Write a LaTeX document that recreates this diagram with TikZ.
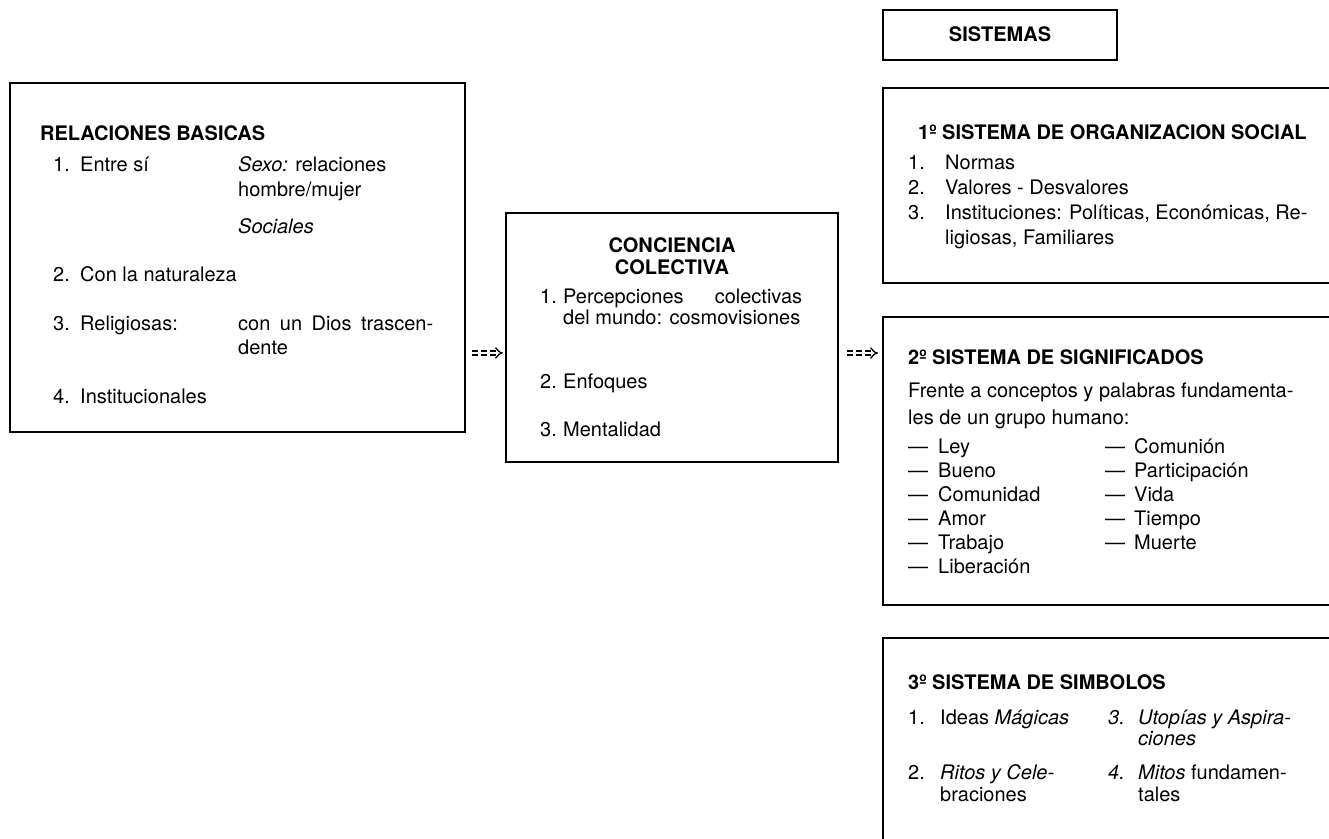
\documentclass[tikz,border=0pt]{standalone}
\usepackage{fontspec}
\setmainfont{TeX Gyre Heros}
\usetikzlibrary{arrows.meta}
\begin{document}
\begin{tikzpicture}[x=1pt,y=-1pt,
  box/.style={line width=1.8pt},
  boxn/.style={draw, line width=1.8pt, anchor=north west, inner sep=0pt, outer sep=0pt},
  txt/.style={anchor=base west, inner sep=0pt, font=\fontsize{20}{24}\selectfont},
  ttl/.style={anchor=base west, inner sep=0pt, font=\fontsize{20}{24}\selectfont\bfseries},
  arr/.style={line width=1.3pt, double distance=2.6pt, dash pattern=on 6pt off 3pt, -{Implies[length=6pt,width=9pt]}}]
\useasboundingbox (0,0) rectangle (1329,838);
% boxes
\node[boxn, minimum width=455pt, minimum height=349pt] (rb) at (10,83) {};
\node[boxn, minimum width=332pt, minimum height=249pt] (cc) at (506,213) {};
\node[boxn, minimum width=234pt, minimum height=50pt] (sis) at (883,10) {};
\coordinate (s1) at (883,88);
\coordinate (s2) at (883,317);
\coordinate (s3) at (883,638);
\draw[box] (1332,88) -- (s1) -- (883,283) -- (1332,283);
\draw[box] (1332,317) -- (s2) -- (883,605) -- (1332,605);
\draw[box] (1332,638) -- (s3) -- (883,842);
% arrows
\coordinate (a1s) at (472,353);
\coordinate (a1e) at (503,353);
\coordinate (a2s) at (847,353);
\coordinate (a2e) at (878,353);
\draw[arr] (a1s) -- (a1e);
\draw[arr] (a2s) -- (a2e);
% SISTEMAS
\node[ttl, anchor=base] (sist) at (1000,41) {SISTEMAS};
% left box
\node[ttl] (rbt) at (40,140) {RELACIONES BASICAS};
\node[txt] (rn1) at (53,171) {1.};
\node[txt] (rl1) at (80,171) {Entre sí};
\node[txt] (rl1a) at (238,171) {\textit{Sexo:} relaciones};
\node[txt] (rl1b) at (238,196) {hombre/mujer};
\node[txt] (rl1c) at (238,233) {\textit{Sociales}};
\node[txt] (rn2) at (53,281) {2.};
\node[txt] (rl2) at (80,281) {Con la naturaleza};
\node[txt] (rn3) at (53,330) {3.};
\node[txt] (rl3) at (80,330) {Religiosas:};
\node[txt] (rl3a) at (238,330) {\hbox to 195pt{con\hfill un\hfill Dios\hfill trascen-}};
\node[txt] (rl3b) at (238,354) {dente};
\node[txt] (rn4) at (53,403) {4.};
\node[txt] (rl4) at (80,403) {Institucionales};
% middle box
\node[ttl, anchor=base] (cct1) at (672,252) {CONCIENCIA};
\node[ttl, anchor=base] (cct2) at (672,274) {COLECTIVA};
\node[txt] (cn1) at (540,303) {1.};
\node[txt] (cl1) at (563,303) {\hbox to 239pt{Percepciones\hfill colectivas}};
\node[txt] (cl1b) at (563,324) {del mundo: cosmovisiones};
\node[txt] (cn2) at (540,388) {2.};
\node[txt] (cl2) at (563,388) {Enfoques};
\node[txt] (cn3) at (540,436) {3.};
\node[txt] (cl3) at (563,436) {Mentalidad};
% system 1
\node[ttl] (o1t) at (918,139) {1º SISTEMA DE ORGANIZACION SOCIAL};
\node[txt] (on1) at (908,169) {1.};
\node[txt] (ol1) at (945,169) {Normas};
\node[txt] (on2) at (908,194) {2.};
\node[txt] (ol2) at (945,194) {Valores - Desvalores};
\node[txt] (on3) at (908,219) {3.};
\node[txt] (ol3) at (945,219) {Instituciones: Políticas, Económicas, Re-};
\node[txt] (ol3b) at (945,244) {ligiosas, Familiares};
% system 2
\node[ttl] (g2t) at (908,364) {2º SISTEMA DE SIGNIFICADOS};
\node[txt] (g2a) at (908,397) {Frente a conceptos y palabras fundamenta-};
\node[txt] (g2b) at (908,424) {les de un grupo humano:};
\foreach \w [count=\i] in {Ley,Bueno,Comunidad,Amor,Trabajo,Liberación}{
  \node[txt] (da\i) at (908,{429+24*\i}) {—};
  \node[txt] (wa\i) at (938,{429+24*\i}) {\w};
}
\foreach \w [count=\i] in {Comunión,Participación,Vida,Tiempo,Muerte}{
  \node[txt] (db\i) at (1105,{429+24*\i}) {—};
  \node[txt] (wb\i) at (1134,{429+24*\i}) {\w};
}
% system 3
\node[ttl] (y3t) at (908,689) {3º SISTEMA DE SIMBOLOS};
\node[txt] (yn1) at (908,724) {1.};
\node[txt] (yl1) at (940,724) {Ideas \textit{Mágicas}};
\node[txt] (yn3) at (1108,724) {\textit{3.}};
\node[txt] (yl3) at (1138,724) {\textit{Utopías y Aspira-}};
\node[txt] (yl3b) at (1138,745) {\textit{ciones}};
\node[txt] (yn2) at (908,779) {2.};
\node[txt] (yl2) at (940,779) {\textit{Ritos y Cele-}};
\node[txt] (yl2b) at (940,801) {braciones};
\node[txt] (yn4) at (1108,779) {\textit{4.}};
\node[txt] (yl4) at (1138,779) {\textit{Mitos} fundamen-};
\node[txt] (yl4b) at (1138,801) {tales};
\end{tikzpicture}
\end{document}
